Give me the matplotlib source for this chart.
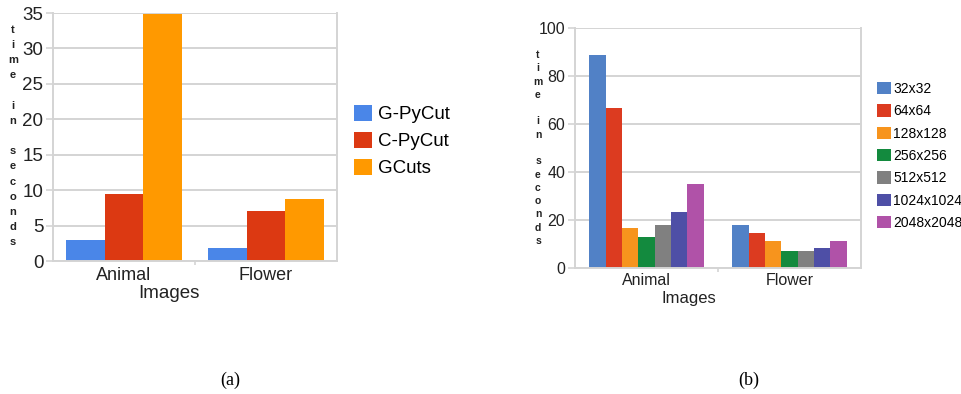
import matplotlib
matplotlib.use("Agg")
import matplotlib.pyplot as plt
import numpy as np

plt.rcParams['font.family'] = ['Liberation Sans', 'DejaVu Sans']

# ---- data ----
categories = ["Animal", "Flower"]

methods_a = ["G-PyCut", "C-PyCut", "GCuts"]
values_a = {
    "G-PyCut": [3.0, 1.9],
    "C-PyCut": [9.4, 7.0],
    "GCuts": [34.9, 8.7],
}
colors_a = ["#4a86e8", "#dc3912", "#ff9900"]
yticks_a = [0, 5, 10, 15, 20, 25, 30, 35]

sizes_b = ["32x32", "64x64", "128x128", "256x256", "512x512", "1024x1024", "2048x2048"]
values_b = {
    "32x32": [88.8, 17.8],
    "64x64": [66.8, 14.6],
    "128x128": [16.7, 11.1],
    "256x256": [12.9, 6.8],
    "512x512": [17.8, 6.8],
    "1024x1024": [23.2, 8.3],
    "2048x2048": [34.8, 11.3],
}
colors_b = ["#5181c6", "#dc3b20", "#f7941d", "#138a3e", "#808080", "#4e4fa6", "#b052a8"]
yticks_b = [0, 20, 40, 60, 80, 100]

W, H = 962, 394
fig = plt.figure(figsize=(W / 100, H / 100), dpi=100)


def fx(px):
    return px / W


def fy(py):
    return 1 - py / H


GRID = "#d4d4d4"
TXT = "#222222"


def style_axes(ax, yticks, ymax, fs_y, fs_x):
    ax.set_xlim(-0.5, 1.5)
    ax.set_ylim(0, ymax)
    ax.set_yticks(yticks)
    ax.set_yticklabels([str(v) for v in yticks], fontsize=fs_y, color=TXT)
    ax.set_xticks([0, 1])
    ax.set_xticklabels(categories, fontsize=fs_x, color=TXT)
    ax.tick_params(axis='x', length=0, pad=4)
    ax.set_xticks([0.5], minor=True)
    ax.tick_params(axis='x', which='minor', length=3, color=GRID, width=1.2)
    ax.tick_params(axis='y', length=5, color=GRID, width=1.2, pad=2)
    ax.yaxis.grid(True, color=GRID, linewidth=1.4)
    ax.set_axisbelow(True)
    for s in ['left', 'right', 'bottom']:
        ax.spines[s].set_color(GRID)
        ax.spines[s].set_linewidth(1.4)
    ax.spines['top'].set_visible(False)


# ---- panel (a) ----
axa = fig.add_axes([fx(53), fy(261), fx(284), (261 - 13) / H])
x = np.arange(len(categories))
bw_a = 0.27
for i, m in enumerate(methods_a):
    axa.bar(x + (i - 1) * bw_a, values_a[m], width=bw_a, color=colors_a[i], label=m)
style_axes(axa, yticks_a, 35, 13.5, 13)
axa.legend(loc='center left', bbox_to_anchor=(fx(354), fy(141)),
           bbox_transform=fig.transFigure, frameon=False, fontsize=13.5,
           handlelength=0.96, handleheight=0.96, handletextpad=0.3,
           labelspacing=0.45, borderpad=0, borderaxespad=0)
fig.text(fx(169), fy(294), "Images", fontsize=13.5, color=TXT, ha='center', va='center')
fig.text(fx(13), fy(136), "t\ni\nm\ne\n \ni\nn\n \ns\ne\nc\no\nn\nd\ns",
         fontsize=8, fontweight='bold', color=TXT, ha='center', va='center',
         linespacing=1.65)

# ---- panel (b) ----
axb = fig.add_axes([fx(575), fy(267.7), fx(286), (267.7 - 28) / H])
bw_b = 0.8 / len(sizes_b)
for i, s in enumerate(sizes_b):
    axb.bar(x + (i - 3) * bw_b, values_b[s], width=bw_b, color=colors_b[i], label=s)
style_axes(axb, yticks_b, 100, 11.5, 11.5)
axb.legend(loc='center left', bbox_to_anchor=(fx(877), fy(156)),
           bbox_transform=fig.transFigure, frameon=False, fontsize=10,
           handlelength=1.0, handleheight=1.0, handletextpad=0.15,
           labelspacing=0.6, borderpad=0, borderaxespad=0)
fig.text(fx(689), fy(298), "Images", fontsize=12, color=TXT, ha='center', va='center')
fig.text(fx(538), fy(148), "t\ni\nm\ne\n \ni\nn\n \ns\ne\nc\no\nn\nd\ns",
         fontsize=7.5, fontweight='bold', color=TXT, ha='center', va='center',
         linespacing=1.41)

# ---- captions ----
fig.text(fx(230), fy(380), "(a)", fontsize=13, family='Liberation Serif',
         ha='center', va='center', color='black')
fig.text(fx(749), fy(380), "(b)", fontsize=13, family='Liberation Serif',
         ha='center', va='center', color='black')

fig.savefig("out.png", dpi=100, facecolor='white')
